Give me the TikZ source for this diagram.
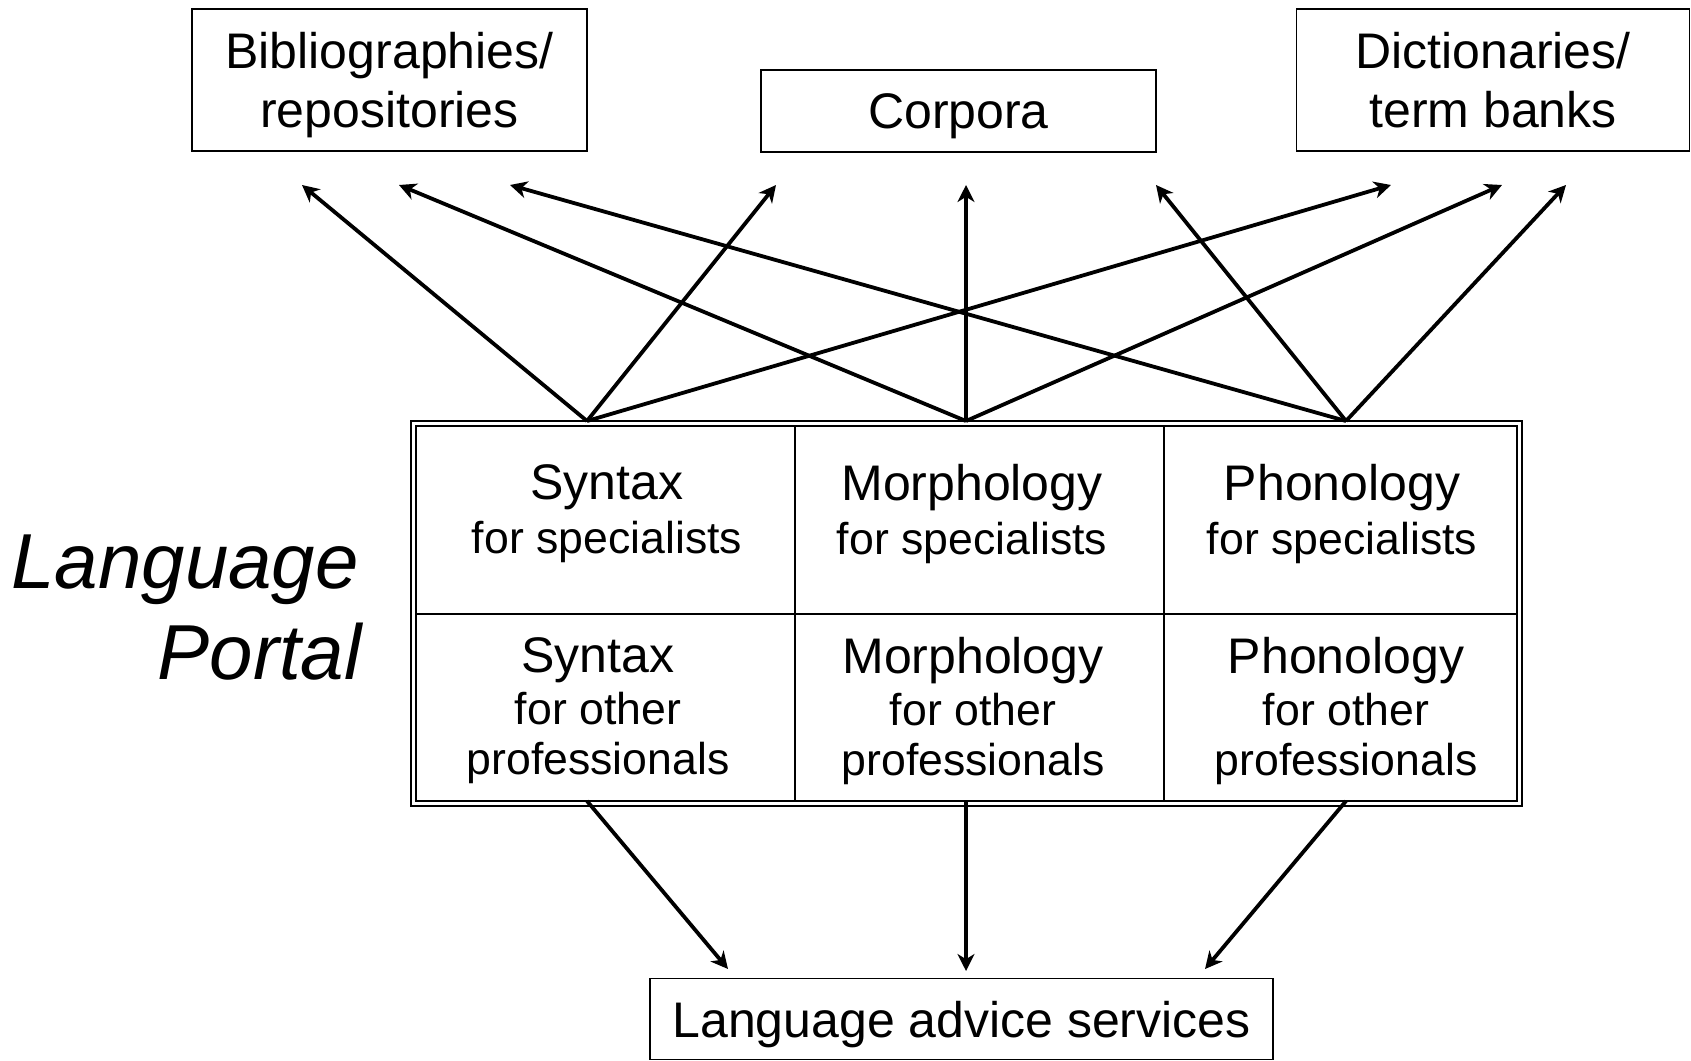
\documentclass[tikz,border=0pt]{standalone}
\usepackage{fontspec}
\setmainfont{Liberation Sans}
\usetikzlibrary{positioning,arrows.meta}

\newcommand{\cellhead}[1]{{\fontsize{25}{28}\selectfont #1}}

\begin{document}
\begin{tikzpicture}[x=0.5pt,y=-0.5pt,>={Stealth[length=8.5pt,width=8.5pt,inset=2.6pt]},
    src/.style={draw,line width=0.8pt,align=center,inner sep=0pt,text depth=0pt,font=\fontsize{25}{29.5}\selectfont},
    celltext/.style={align=center,inner sep=0pt,font=\fontsize{22.3}{25}\selectfont},
    grid/.style={line width=0.7pt},
    link/.style={->,line width=1.9pt}]

    \useasboundingbox (0,0) rectangle (1691,1060);

    % sources
    \node[src,minimum width=197.5pt,minimum height=71pt] (biblio) at (389.5,80) {Bibliographies/\\repositories};
    \node[src,minimum width=197.5pt,minimum height=41pt] (corpora) at (958.5,111) {Corpora};
    \node[src,minimum width=196.5pt,minimum height=71pt] (dict) at (1493,80) {Dictionaries/\\term banks};
    \node[src,minimum width=311.5pt,minimum height=40.5pt] (advice) at (961.5,1019) {Language advice services};

    % portal table
    \node[draw,line width=0.6pt,minimum width=555.5pt,minimum height=192.5pt,inner sep=0pt] (portal) at (966.5,613.5) {};
    \node[draw,grid,minimum width=550.5pt,minimum height=187.5pt,inner sep=0pt] (inner) at (966.5,613.5) {};
    \draw[grid] (416,614) -- (1517,614);
    \draw[grid] (795,426) -- (795,801);
    \draw[grid] (1164,426) -- (1164,801);

    \node[celltext] (syn1) at (607,514) {\cellhead{Syntax}\\[2pt]for specialists};
    \node[celltext] (mor1) at (972,514) {\cellhead{Morphology}\\[2pt]for specialists};
    \node[celltext] (pho1) at (1342,514) {\cellhead{Phonology}\\[2pt]for specialists};
    \node[celltext] (syn2) at (598,711) {\cellhead{Syntax}\\[1pt]for other\\professionals};
    \node[celltext] (mor2) at (973,711) {\cellhead{Morphology}\\[1pt]for other\\professionals};
    \node[celltext] (pho2) at (1346,711) {\cellhead{Phonology}\\[1pt]for other\\professionals};

    \node[anchor=base east,inner sep=0pt,font=\fontsize{39}{45}\selectfont\itshape] (lang) at (359,588) {Language};
    \node[anchor=base east,inner sep=0pt,font=\fontsize{39}{45}\selectfont\itshape] (portaltxt) at (362,679) {Portal};

    % arrow ends
    \coordinate (s1) at (587,421);
    \coordinate (s2) at (966,421);
    \coordinate (s3) at (1346,421);
    \coordinate (b1) at (302,185);
    \coordinate (b2) at (399,185);
    \coordinate (b3) at (510,185);
    \coordinate (c1) at (776,185);
    \coordinate (c2) at (966,185);
    \coordinate (c3) at (1156,185);
    \coordinate (d1) at (1391,185);
    \coordinate (d2) at (1502,185);
    \coordinate (d3) at (1566,185);
    \coordinate (u1) at (587,801);
    \coordinate (u2) at (966,801);
    \coordinate (u3) at (1346,801);
    \coordinate (a1) at (728,969);
    \coordinate (a2) at (966,971);
    \coordinate (a3) at (1205,969);

    \foreach \s/\t in {s1/b1,s1/c1,s1/d1,s2/b2,s2/c2,s2/d2,s3/b3,s3/c3,s3/d3,u1/a1,u2/a2,u3/a3}
        \draw[link] (\s) -- (\t);

\end{tikzpicture}
\end{document}
